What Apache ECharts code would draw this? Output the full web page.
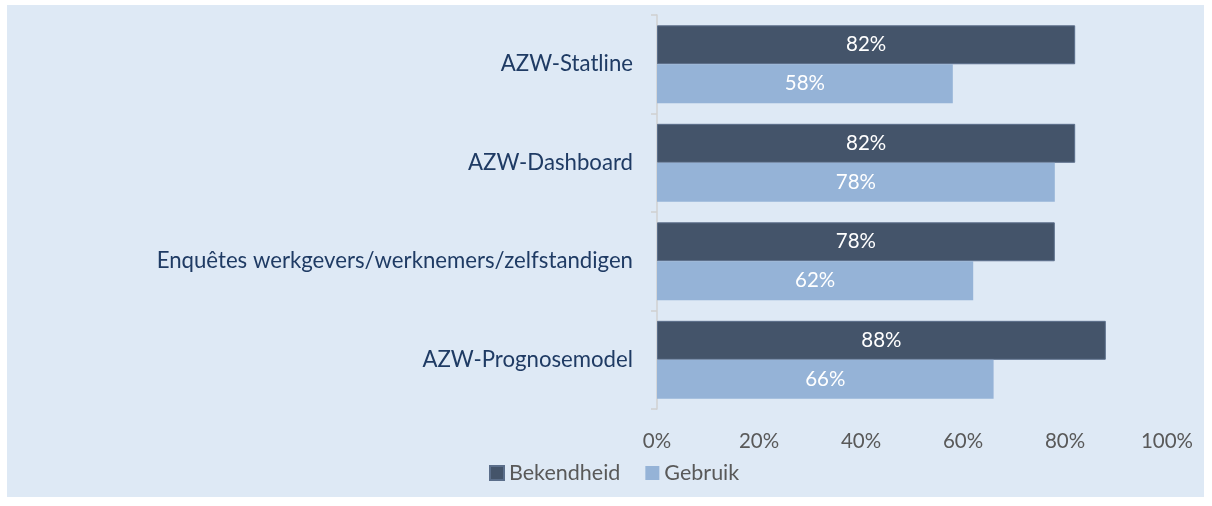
<!DOCTYPE html>
<html>
<head>
<meta charset="utf-8">
<script src="https://cdn.jsdelivr.net/npm/echarts@6/dist/echarts.min.js"></script>
<style>
  html, body { margin: 0; padding: 0; background: #fff; }
  #panel { position: absolute; left: 7px; top: 5px; width: 1197px; height: 492px; background: #DEE9F5; }
  #chart { position: absolute; left: 0; top: 0; width: 1212px; height: 506px; }
</style>
</head>
<body>
<div id="panel"></div>
<div id="chart"></div>
<script>
  // categories top to bottom
  var categories = ['AZW-Statline', 'AZW-Dashboard', 'Enquêtes werkgevers/werknemers/zelfstandigen', 'AZW-Prognosemodel'];
  var bekendheid = [82, 82, 78, 88];
  var gebruik = [58, 78, 62, 66];
  var seriesNames = ['Bekendheid', 'Gebruik'];

  var myChart = echarts.init(document.getElementById('chart'));
  var font = 'Lato, "Open Sans", sans-serif';

  var barLabel = {
    show: true,
    position: 'inside',
    color: '#fff',
    fontSize: 20.5,
    fontFamily: font,
    formatter: '{c}%'
  };

  var option = {
    backgroundColor: 'transparent',
    animation: false,
    grid: { left: 657, right: 45, top: 15, bottom: 97 },
    legend: {
      data: seriesNames,
      bottom: 17,
      left: 484,
      itemWidth: 14,
      itemHeight: 14,
      itemGap: 25,
      icon: 'rect',
      textStyle: { color: '#595959', fontSize: 21.5, fontFamily: font }
    },
    xAxis: {
      type: 'value',
      min: 0,
      max: 100,
      interval: 20,
      axisLine: { show: false },
      axisTick: { show: false },
      splitLine: { show: false },
      axisLabel: { formatter: '{value}%', color: '#595959', fontSize: 20.5, fontFamily: font, margin: 22 }
    },
    yAxis: {
      type: 'category',
      inverse: true,
      data: categories,
      axisLine: { show: true, lineStyle: { color: '#D0D0D0', width: 1.5 } },
      axisTick: { show: true, length: 6, lineStyle: { color: '#D0D0D0', width: 1.5 } },
      axisLabel: { color: '#1F3B64', fontSize: 22.2, fontFamily: font, margin: 24 }
    },
    series: [
      {
        name: seriesNames[0],
        type: 'bar',
        data: bekendheid,
        barGap: '0%',
        barCategoryGap: '21%',
        itemStyle: { color: '#44546A', borderColor: '#5B6E8A', borderWidth: 1 },
        label: barLabel
      },
      {
        name: seriesNames[1],
        type: 'bar',
        data: gebruik,
        itemStyle: { color: '#95B3D7' },
        label: barLabel
      }
    ]
  };

  myChart.setOption(option);
</script>
</body>
</html>
